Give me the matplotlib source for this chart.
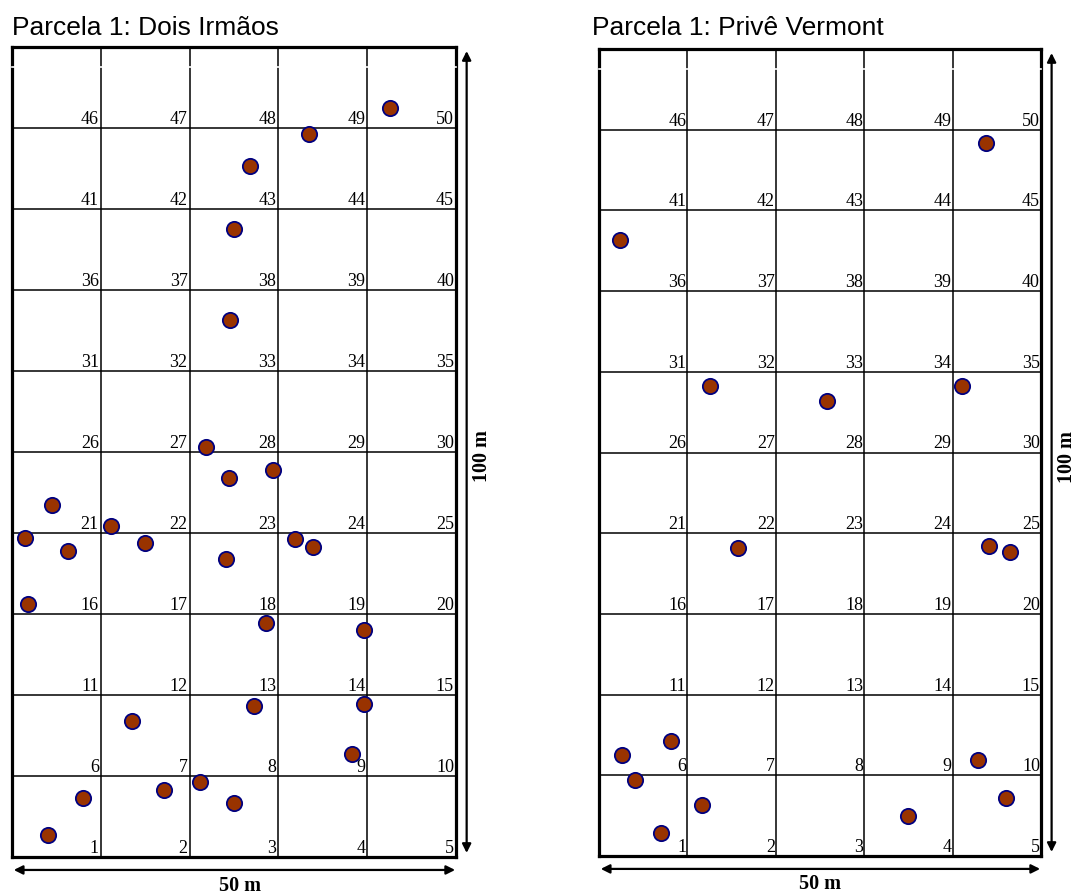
import matplotlib
matplotlib.use("Agg")
import matplotlib.pyplot as plt

# tree positions (m)
dois_x = [42.6, 33.4, 26.8, 25.0, 24.6, 21.8, 24.4, 29.4, 4.5, 11.1, 1.5, 6.3, 15.0,
          24.1, 31.9, 33.9, 1.8, 28.6, 39.6, 13.5, 27.3, 39.6, 38.3, 8.0, 17.1, 21.2,
          25.0, 4.0]
dois_y = [92.5, 89.3, 85.3, 77.5, 66.3, 50.6, 46.8, 47.8, 43.5, 40.9, 39.4, 37.8, 38.8,
          36.8, 39.3, 38.3, 31.2, 28.9, 28.0, 16.8, 18.6, 18.9, 12.7, 7.3, 8.3, 9.3,
          6.7, 2.7]

vermont_x = [43.8, 2.4, 12.6, 25.8, 41.1, 15.7, 44.1, 46.5, 2.6, 8.1, 4.1, 11.7, 7.0,
             35.0, 42.9, 46.0]
vermont_y = [88.4, 76.3, 58.2, 56.4, 58.2, 38.2, 38.4, 37.7, 12.5, 14.3, 9.4, 6.3, 2.8,
             5.0, 11.9, 7.2]

titles = ["Parcela 1: Dois Irmãos", "Parcela 1: Privê Vermont"]
width_label = "50 m"
height_label = "100 m"
n_cols = 5
n_rows = 10
cell = 10

W, H = 1076, 895
SERIF = ["Liberation Serif", "DejaVu Serif"]
SANS = ["Liberation Sans", "DejaVu Sans"]


def px_axes(fig, left, top, right, bottom):
    return fig.add_axes([left / W, (H - bottom) / H, (right - left) / W, (bottom - top) / H])


def draw_plot(ax, xs, ys, label_x, num_dx):
    ax.set_xlim(0, n_cols * cell)
    ax.set_ylim(0, n_rows * cell)
    ax.set_xticks([])
    ax.set_yticks([])
    for s in ax.spines.values():
        s.set_linewidth(2.3)
        s.set_color("black")

    for i in range(1, n_cols):
        ax.axvline(i * cell, color="black", lw=1.1, zorder=1)
    for j in range(1, n_rows):
        ax.axhline(j * cell, color="black", lw=1.1, zorder=1)

    # small white break near the top
    ax.axhline(97.5, color="white", lw=1.2, zorder=6, clip_on=False)

    for j in range(n_rows):
        for i in range(n_cols):
            num = j * n_cols + i + 1
            ax.annotate(str(num), xy=((i + 1) * cell, j * cell), xytext=(num_dx, 5),
                        textcoords="offset pixels", ha="right", va="baseline",
                        fontsize=13, family=SERIF, zorder=3)

    ax.plot(xs, ys, "o", ms=11, mfc="#993300", mec="#000080", mew=1.3,
            zorder=4, clip_on=False)

    # dimension arrows
    ax.annotate("", xy=(51.2, 99.5), xytext=(51.2, 0.5),
                arrowprops=dict(arrowstyle="<|-|>", color="black", lw=1.6,
                                mutation_scale=13, shrinkA=0, shrinkB=0),
                annotation_clip=False)
    ax.annotate("", xy=(0.2, -1.6), xytext=(49.9, -1.6),
                arrowprops=dict(arrowstyle="<|-|>", color="black", lw=1.6,
                                mutation_scale=13, shrinkA=0, shrinkB=0),
                annotation_clip=False)
    ax.text(label_x, -3.4, width_label, ha="center", va="center", fontsize=14.5,
            fontweight="bold", family=SERIF, clip_on=False)
    ax.text(52.9, 49.6, height_label, ha="center", va="center", rotation=90,
            fontsize=14.5, fontweight="bold", family=SERIF, clip_on=False)


fig = plt.figure(figsize=(W / 100, H / 100), dpi=100)

ax1 = px_axes(fig, 12, 48, 456, 858)
draw_plot(ax1, dois_x, dois_y, 25.7, -2)
fig.text(12 / W, 1 - 35 / H, titles[0], ha="left", va="baseline", fontsize=19, family=SANS)

ax2 = px_axes(fig, 599, 50, 1041, 857)
draw_plot(ax2, vermont_x, vermont_y, 25.0, -1)
fig.text(592 / W, 1 - 35 / H, titles[1], ha="left", va="baseline", fontsize=19, family=SANS)

fig.savefig("out.png", dpi=100)
